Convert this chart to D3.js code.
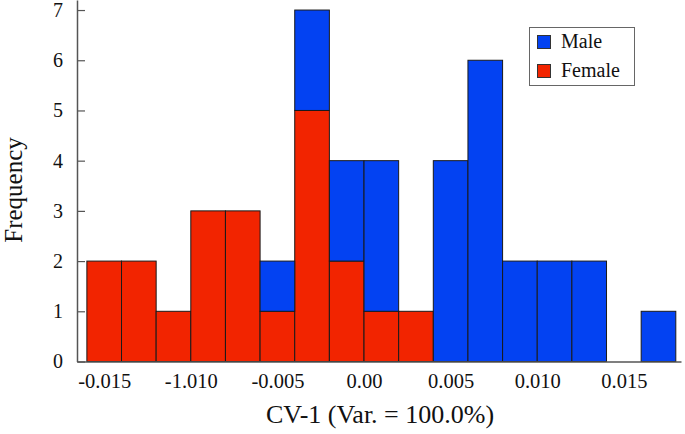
<!DOCTYPE html>
<html><head><meta charset="utf-8">
<script src="https://cdn.jsdelivr.net/npm/d3@7"></script>
<style>body{margin:0;background:#fff}svg{display:block}text{font-family:'Liberation Serif','Times New Roman',serif}</style>
</head><body>
<script>
const binStarts = [-0.016,-0.014,-0.012,-0.010,-0.008,-0.006,-0.004,-0.002,0.000,0.002,0.004,0.006,0.008,0.010,0.012,0.014,0.016];
const binWidth = 0.002;
const female = [2,2,1,3,3,1,5,2,1,1,0,0,0,0,0,0,0];
const male   = [0,0,0,0,0,1,2,2,3,0,4,6,2,2,2,0,1];
const xTickValues = [-0.015,-0.010,-0.005,0.000,0.005,0.010,0.015];
const xTickLabels = ["-0.015","-1.010","-0.005","0.00","0.005","0.010","0.015"];
const yTicks = [0,1,2,3,4,5,6,7];
const seriesNames = ["Female","Male"];
const colors = {Male:"#0342F2", Female:"#F22400"};

const W=685,H=434;
const svg=d3.select("body").append("svg").attr("width",W).attr("height",H);
const font="'Liberation Serif','Times New Roman',serif";
const x=d3.scaleLinear().domain([-0.01657,0.0183]).range([77,681]);
const y=d3.scaleLinear().domain([0,7.2]).range([361.5,0]);

const rows=binStarts.map((b,i)=>({x0:b,Female:female[i],Male:male[i]}));
const stack=d3.stack().keys(seriesNames)(rows);

svg.append("g").selectAll("g").data(stack).join("g")
  .attr("fill",d=>colors[d.key])
  .selectAll("rect").data(d=>d.filter(s=>s[1]-s[0]>0)).join("rect")
  .attr("x",d=>x(d.data.x0))
  .attr("width",d=>x(d.data.x0+binWidth)-x(d.data.x0))
  .attr("y",d=>y(d[1]))
  .attr("height",d=>y(d[0])-y(d[1]))
  .attr("stroke","#1a1a1a").attr("stroke-width",1);

// y axis
const yAxis=svg.append("g").attr("transform","translate(77,0)")
  .call(d3.axisLeft(y).tickValues(yTicks).tickFormat(d3.format("d")).tickSizeInner(-8).tickSizeOuter(0).tickPadding(14));
yAxis.attr("font-family",null);
yAxis.select(".domain").attr("stroke","#555").attr("stroke-width",1.5);
yAxis.selectAll(".tick line").attr("stroke","#555").attr("stroke-width",1.2);
yAxis.selectAll("text").style("font-family",font).attr("font-size",20).attr("fill","#111");

// x axis
const xAxis=svg.append("g").attr("transform","translate(0,361.5)")
  .call(d3.axisBottom(x).tickValues(xTickValues).tickFormat((d,i)=>xTickLabels[i]).tickSize(0).tickPadding(12));
xAxis.attr("font-family",null);
xAxis.select(".domain").attr("stroke","#555").attr("stroke-width",1.5);
xAxis.selectAll("text").style("font-family",font).attr("font-size",20.5).attr("fill","#111");

svg.append("text").attr("x",380).attr("y",423).attr("text-anchor","middle")
  .style("font-family",font).attr("font-size",26).attr("fill","#111").text("CV-1 (Var. = 100.0%)");
svg.append("text").attr("transform","translate(22,190) rotate(-90)").attr("text-anchor","middle")
  .style("font-family",font).attr("font-size",25).attr("fill","#111").text("Frequency");

// legend
const lg=svg.append("g");
lg.append("rect").attr("x",529.5).attr("y",27.5).attr("width",105).attr("height",58)
  .attr("fill","#fff").attr("stroke","#666").attr("stroke-width",1);
["Male","Female"].forEach((k,i)=>{
  lg.append("rect").attr("x",537.5).attr("y",35.5+i*29).attr("width",13).attr("height",13)
    .attr("fill",colors[k]).attr("stroke","#333").attr("stroke-width",1);
  lg.append("text").attr("x",561).attr("y",48+i*29).style("font-family",font).attr("font-size",20)
    .attr("fill","#111").text(k);
});
</script>
</body></html>
